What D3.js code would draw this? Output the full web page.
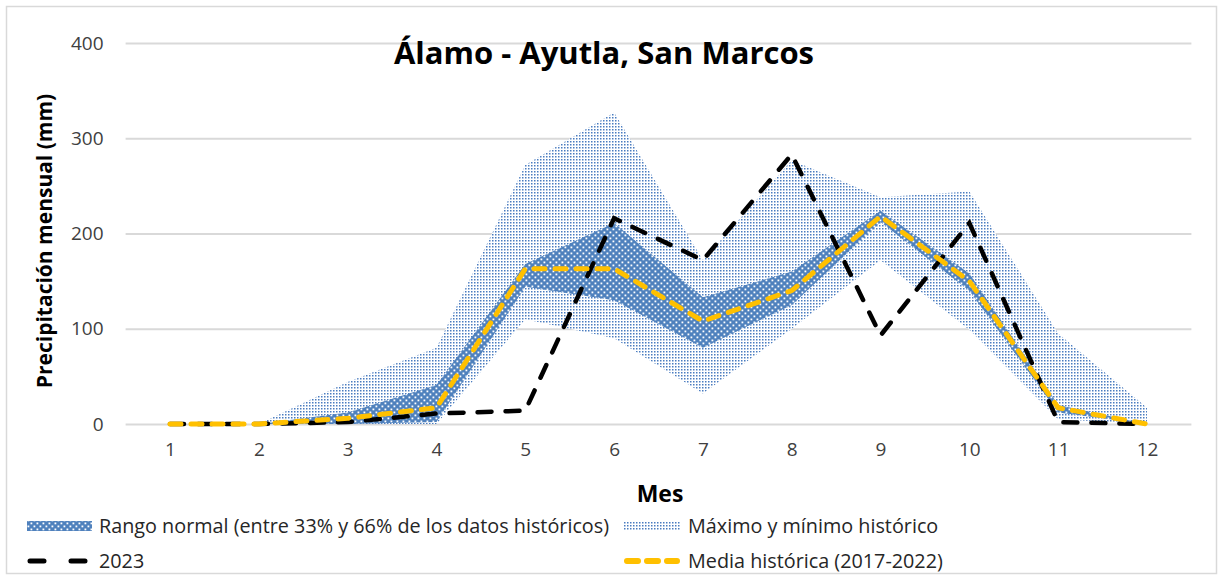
<!DOCTYPE html>
<html>
<head>
<meta charset="utf-8">
<script src="https://cdn.jsdelivr.net/npm/d3@7"></script>
<style>
  body { margin: 0; background: #fff; }
  text { font-family: "Open Sans", Lato, sans-serif; }
</style>
</head>
<body>
<svg id="chart" width="1219" height="575"></svg>
<script>
// Monthly data (mm)
const months   = [1, 2, 3, 4, 5, 6, 7, 8, 9, 10, 11, 12];
const maxHist  = [0, 0, 44, 80, 272, 327, 172, 277, 238, 244, 95, 17];
const minHist  = [0, 0, 0, 0, 110, 90, 32, 100, 172, 99, 5, 0];
const normHigh = [0, 0, 12, 41, 168, 211, 133, 160, 224, 158, 20, 0];
const normLow  = [0, 0, 0, 2, 144, 130, 80, 125, 212, 140, 12, 0];
const mean     = [0, 0, 6, 17, 163, 163, 108, 140, 218, 150, 17, 0];
const y2023    = [0, 0, 2, 11, 14, 216, 172, 283, 93, 211, 2, 0];
const yTicks   = [0, 100, 200, 300, 400];

const svg = d3.select("#chart");

// frame
svg.append("rect")
    .attr("x", 6.5).attr("y", 6.5)
    .attr("width", 1210).attr("height", 567)
    .attr("fill", "#fff").attr("stroke", "#d9d9d9").attr("stroke-width", 1.5);

const left = 125.6, right = 1191.4;
const x = d3.scalePoint().domain(months).range([170, 1147]);
const y = d3.scaleLinear().domain([0, 400]).range([424, 43]);

// patterns
const defs = svg.append("defs");
const pLight = defs.append("pattern").attr("id", "light")
    .attr("patternUnits", "userSpaceOnUse").attr("width", 3).attr("height", 3);
pLight.append("rect").attr("width", 3).attr("height", 3).attr("fill", "#ffffff");
pLight.append("rect").attr("width", 1.5).attr("height", 1.5).attr("fill", "#4a7cc0");

const pDark = defs.append("pattern").attr("id", "dark")
    .attr("patternUnits", "userSpaceOnUse").attr("width", 6).attr("height", 6);
pDark.append("rect").attr("width", 6).attr("height", 6).attr("fill", "#4f81bd");
pDark.append("rect").attr("x", 0.5).attr("y", 0.5).attr("width", 1.8).attr("height", 1.8).attr("fill", "#ffffff");
pDark.append("rect").attr("x", 3.5).attr("y", 3.5).attr("width", 1.8).attr("height", 1.8).attr("fill", "#ffffff");

// grid + y axis
const yAxis = svg.append("g")
    .attr("transform", `translate(${left},0)`)
    .call(d3.axisLeft(y).tickValues(yTicks).tickSize(-(right - left)).tickPadding(22));
yAxis.select(".domain").remove();
yAxis.selectAll("line").attr("stroke", "#d9d9d9").attr("stroke-width", 2);
yAxis.selectAll("text").attr("font-size", 19).attr("fill", "#404040")
    .style("font-family", "'Open Sans', sans-serif");

// x axis labels
const xAxis = svg.append("g")
    .attr("transform", "translate(0,424)")
    .call(d3.axisBottom(x).tickSize(0).tickPadding(19));
xAxis.select(".domain").remove();
xAxis.selectAll("text").attr("font-size", 19).attr("fill", "#404040")
    .style("font-family", "'Open Sans', sans-serif");

// areas
const band = (hi, lo) => d3.area()
    .x((d, i) => x(months[i]))
    .y0((d, i) => y(lo[i]))
    .y1((d, i) => y(hi[i]));

svg.append("path").datum(months)
    .attr("d", band(maxHist, minHist))
    .attr("fill", "url(#light)");

svg.append("path").datum(months)
    .attr("d", band(normHigh, normLow))
    .attr("fill", "url(#dark)");

// lines
const line = d3.line().x((d, i) => x(months[i])).y(d => y(d));

svg.append("path").datum(y2023)
    .attr("d", line)
    .attr("fill", "none").attr("stroke", "#000")
    .attr("stroke-width", 4.5).attr("stroke-linecap", "round")
    .attr("stroke-dasharray", "14 14");

svg.append("path").datum(mean)
    .attr("d", line)
    .attr("fill", "none").attr("stroke", "#ffc000")
    .attr("stroke-width", 5).attr("stroke-linecap", "round")
    .attr("stroke-dasharray", "11 10");

// titles
svg.append("text")
    .attr("x", 604).attr("y", 64)
    .attr("text-anchor", "middle")
    .attr("font-size", 31).attr("font-weight", "bold").attr("fill", "#000")
    .text("Álamo - Ayutla, San Marcos");

svg.append("text")
    .attr("transform", "translate(52,241) rotate(-90)")
    .attr("text-anchor", "middle")
    .attr("font-size", 21).attr("font-weight", "bold").attr("fill", "#000")
    .text("Precipitación mensual (mm)");

svg.append("text")
    .attr("x", 660).attr("y", 502)
    .attr("text-anchor", "middle")
    .attr("font-size", 23).attr("font-weight", "bold").attr("fill", "#000")
    .text("Mes");

// legend
const legend = svg.append("g");
const lg = [
  { label: "Rango normal (entre 33% y 66% de los datos históricos)", kind: "dark", x: 27, y: 526 },
  { label: "Máximo y mínimo histórico", kind: "light", x: 624, y: 526 },
  { label: "2023", kind: "black", x: 27, y: 561 },
  { label: "Media histórica (2017-2022)", kind: "yellow", x: 624, y: 561 }
];
lg.forEach(d => {
  const g = legend.append("g");
  const w = d.x < 300 ? 65 : 56;
  if (d.kind === "dark" || d.kind === "light") {
    g.append("rect").attr("x", d.x).attr("y", d.y - 5)
      .attr("width", w).attr("height", 10)
      .attr("fill", `url(#${d.kind})`);
  } else if (d.kind === "black") {
    g.append("line").attr("x1", d.x + 3).attr("x2", d.x + w - 3)
      .attr("y1", d.y).attr("y2", d.y)
      .attr("stroke", "#000").attr("stroke-width", 5).attr("stroke-linecap", "round")
      .attr("stroke-dasharray", "14 27");
  } else {
    g.append("line").attr("x1", d.x + 3).attr("x2", d.x + w - 3)
      .attr("y1", d.y).attr("y2", d.y)
      .attr("stroke", "#ffc000").attr("stroke-width", 6).attr("stroke-linecap", "round")
      .attr("stroke-dasharray", "11 9");
  }
  g.append("text")
    .attr("x", d.x + (d.x < 300 ? 72 : 64)).attr("y", d.y + 7)
    .attr("font-size", 19.8).attr("fill", "#262626")
    .text(d.label);
});
</script>
</body>
</html>
